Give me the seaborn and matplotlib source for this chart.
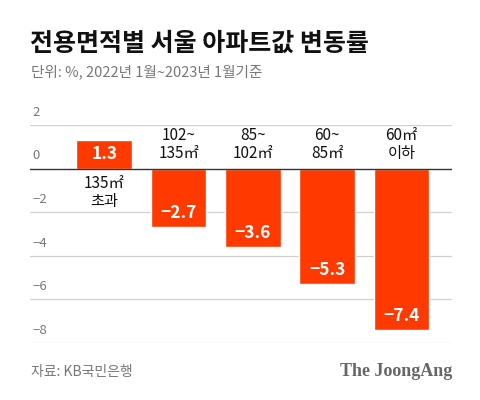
import matplotlib
matplotlib.use("Agg")
import matplotlib.pyplot as plt
import matplotlib.transforms as mtransforms
import seaborn as sns
import pandas as pd

categories = ["135㎡\n초과", "102~\n135㎡", "85~\n102㎡", "60~\n85㎡", "60㎡\n이하"]
values = [1.3, -2.7, -3.6, -5.3, -7.4]
yticks = [2, 0, -2, -4, -6, -8]

title = "전용면적별 서울 아파트값 변동률"
subtitle = "단위: %, 2022년 1월~2023년 1월기준"
source = "자료: KB국민은행"
brand = "The JoongAng"

bar_color = "#ff3a00"
grey = "#777777"

sns.set_theme(style="white")
plt.rcParams["font.family"] = ["Noto Sans CJK KR", "DejaVu Sans"]

df = pd.DataFrame({"area": categories, "change": values})

fig = plt.figure(figsize=(4.8, 4.0), dpi=100)
ax = fig.add_axes([0.0625, 0.1425, 0.8792, 0.545])

sns.barplot(data=df, x="area", y="change", color=bar_color, saturation=1,
            width=0.75, ax=ax)

ax.set_xlim(-1.0, 4.68)
ax.set_ylim(-8, 2)
ax.set_xlabel("")
ax.set_ylabel("")
ax.set_xticks([])
ax.set_yticks([])
for s in ax.spines.values():
    s.set_visible(False)

blend = mtransforms.blended_transform_factory(ax.transAxes, ax.transData)
for t in yticks:
    if t == 0:
        ax.axhline(0, color="#333333", lw=1.0, zorder=3)
    else:
        ax.axhline(t, color="#d0d0d0", lw=0.9, zorder=0)
    lab = str(t).replace("-", "−")
    ax.text(0.005, t + 0.28, lab, transform=blend, ha="left", va="bottom",
            fontsize=9.5, color=grey)

for i, (cat, v) in enumerate(zip(categories, values)):
    if v >= 0:
        ax.text(i, v / 2, f"{v:.1f}", ha="center", va="center", color="white",
                fontsize=12.5, fontweight="bold", zorder=4)
        ax.text(i, -0.3, cat, ha="center", va="top", fontsize=11,
                color="#111111", linespacing=1.05)
    else:
        ax.text(i, v + 0.65, f"{v:.1f}".replace("-", "−"), ha="center",
                va="center", color="white", fontsize=12.5, fontweight="bold",
                zorder=4)
        ax.text(i, 0.3, cat, ha="center", va="bottom", fontsize=11,
                color="#111111", linespacing=1.05)

fig.text(0.0625, 0.89, title, ha="left", va="center", fontsize=18,
         fontweight="heavy", color="#111111")
fig.text(0.065, 0.82, subtitle, ha="left", va="center", fontsize=10.5,
         color=grey)
fig.text(0.065, 0.07, source, ha="left", va="center", fontsize=10,
         color=grey)
fig.text(0.9417, 0.07, brand, ha="right", va="center", fontsize=13,
         fontweight="bold", color="#666666", family=["Liberation Serif"])

fig.savefig("out.png", dpi=100, facecolor="white")
